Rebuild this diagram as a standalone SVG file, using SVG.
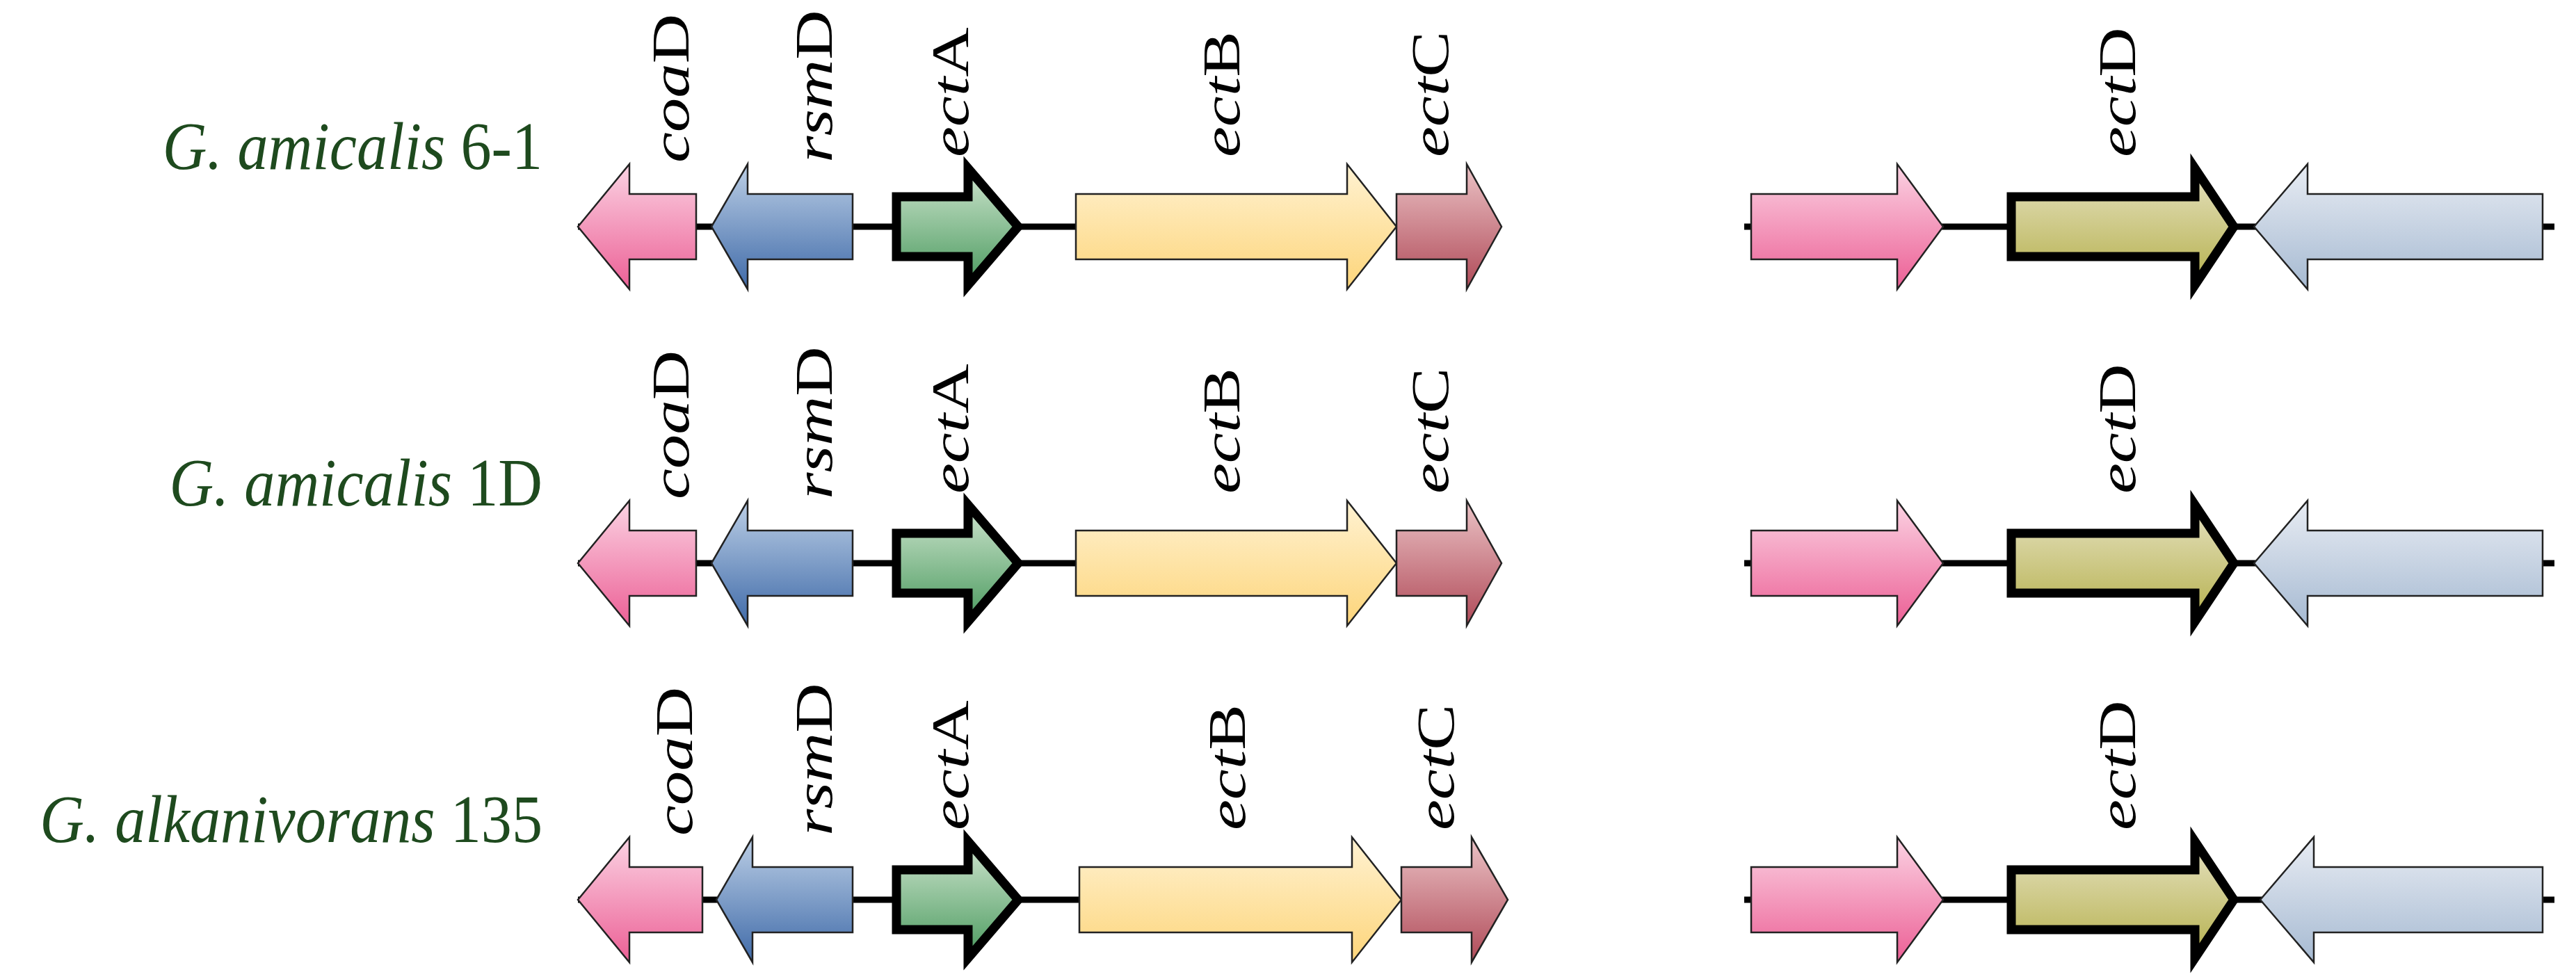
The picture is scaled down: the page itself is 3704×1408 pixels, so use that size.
<svg xmlns="http://www.w3.org/2000/svg" width="3704" height="1408" viewBox="0 0 3704 1408">
<defs>
<linearGradient id="gPink" x1="0" y1="0" x2="0" y2="1"><stop offset="0" stop-color="#fbd3e3"/><stop offset="1" stop-color="#ec5f95"/></linearGradient>
<linearGradient id="gBlue" x1="0" y1="0" x2="0" y2="1"><stop offset="0" stop-color="#bccfe6"/><stop offset="1" stop-color="#3f6aa8"/></linearGradient>
<linearGradient id="gGreen" x1="0" y1="0" x2="0" y2="1"><stop offset="0" stop-color="#cfe5cf"/><stop offset="1" stop-color="#4a9a5e"/></linearGradient>
<linearGradient id="gYellow" x1="0" y1="0" x2="0" y2="1"><stop offset="0" stop-color="#fff2d2"/><stop offset="1" stop-color="#fdd57a"/></linearGradient>
<linearGradient id="gRed" x1="0" y1="0" x2="0" y2="1"><stop offset="0" stop-color="#ebc3c6"/><stop offset="1" stop-color="#b04a58"/></linearGradient>
<linearGradient id="gOlive" x1="0" y1="0" x2="0" y2="1"><stop offset="0" stop-color="#e6e2c2"/><stop offset="1" stop-color="#b5b04c"/></linearGradient>
<linearGradient id="gLight" x1="0" y1="0" x2="0" y2="1"><stop offset="0" stop-color="#e8ecf3"/><stop offset="1" stop-color="#a6bad2"/></linearGradient>
</defs>
<style>
.gene{stroke:#222;stroke-width:2.5;stroke-linejoin:miter}
.thick{stroke:#000;stroke-width:13}
.bb{stroke:#000;stroke-width:9}
.lbl{font-family:"Liberation Serif",serif;font-size:76px;fill:#000}
.sp{font-family:"Liberation Serif",serif;font-size:98px;fill:#1e4a1e}
.it{font-style:italic}
</style>
<g id="connectors">
<line class="bb" x1="831" y1="326" x2="1547" y2="326"/>
<line class="bb" x1="2508" y1="326" x2="3673" y2="326"/>
<line class="bb" x1="831" y1="810" x2="1547" y2="810"/>
<line class="bb" x1="2508" y1="810" x2="3673" y2="810"/>
<line class="bb" x1="831" y1="1294" x2="1552" y2="1294"/>
<line class="bb" x1="2508" y1="1294" x2="3673" y2="1294"/>
</g>
<g id="row1" transform="translate(0,326)">
<text class="sp" transform="translate(780,-83) scale(0.9,1)" text-anchor="end"><tspan class="it">G. amicalis</tspan> 6-1</text>
<g id="r1-coaD"><polygon class="gene" fill="url(#gPink)" points="831,0 905,-90 905,-47 1001,-47 1001,47 905,47 905,90"/><text class="lbl" transform="translate(990,-92) rotate(-90) scale(1.3,1)"><tspan class="it">coa</tspan>D</text></g>
<g id="r1-rsmD"><polygon class="gene" fill="url(#gBlue)" points="1023,0 1075,-90 1075,-47 1226,-47 1226,47 1075,47 1075,90"/><text class="lbl" transform="translate(1196,-92) rotate(-90) scale(1.3,1)"><tspan class="it">rsm</tspan>D</text></g>
<g id="r1-ectA"><polygon class="gene thick" fill="url(#gGreen)" points="1289,-43 1392,-43 1392,-84 1464,0 1392,84 1392,43 1289,43"/><text class="lbl" transform="translate(1392,-100) rotate(-90) scale(1.3,1)"><tspan class="it">ect</tspan>A</text></g>
<g id="r1-ectB"><polygon class="gene" fill="url(#gYellow)" points="1547,-47 1937,-47 1937,-90 2008,0 1937,90 1937,47 1547,47"/><text class="lbl" transform="translate(1782,-100) rotate(-90) scale(1.3,1)"><tspan class="it">ect</tspan>B</text></g>
<g id="r1-ectC"><polygon class="gene" fill="url(#gRed)" points="2008,-47 2109,-47 2109,-90 2159,0 2109,90 2109,47 2008,47"/><text class="lbl" transform="translate(2082,-100) rotate(-90) scale(1.3,1)"><tspan class="it">ect</tspan>C</text></g>
<g id="r1-pink"><polygon class="gene" fill="url(#gPink)" points="2518,-47 2728,-47 2728,-90 2794,0 2728,90 2728,47 2518,47"/></g>
<g id="r1-ectD"><polygon class="gene thick" fill="url(#gOlive)" points="2892,-43 3156,-43 3156,-84 3212,0 3156,84 3156,43 2892,43"/><text class="lbl" transform="translate(3070,-100) rotate(-90) scale(1.3,1)"><tspan class="it">ect</tspan>D</text></g>
<g id="r1-light"><polygon class="gene" fill="url(#gLight)" points="3241,0 3318,-90 3318,-47 3656,-47 3656,47 3318,47 3318,90"/></g>
</g>
<g id="row2" transform="translate(0,810)">
<text class="sp" transform="translate(780,-83) scale(0.9,1)" text-anchor="end"><tspan class="it">G. amicalis</tspan> 1D</text>
<g id="r2-coaD"><polygon class="gene" fill="url(#gPink)" points="831,0 905,-90 905,-47 1001,-47 1001,47 905,47 905,90"/><text class="lbl" transform="translate(990,-92) rotate(-90) scale(1.3,1)"><tspan class="it">coa</tspan>D</text></g>
<g id="r2-rsmD"><polygon class="gene" fill="url(#gBlue)" points="1023,0 1075,-90 1075,-47 1226,-47 1226,47 1075,47 1075,90"/><text class="lbl" transform="translate(1196,-92) rotate(-90) scale(1.3,1)"><tspan class="it">rsm</tspan>D</text></g>
<g id="r2-ectA"><polygon class="gene thick" fill="url(#gGreen)" points="1289,-43 1392,-43 1392,-84 1464,0 1392,84 1392,43 1289,43"/><text class="lbl" transform="translate(1392,-100) rotate(-90) scale(1.3,1)"><tspan class="it">ect</tspan>A</text></g>
<g id="r2-ectB"><polygon class="gene" fill="url(#gYellow)" points="1547,-47 1937,-47 1937,-90 2008,0 1937,90 1937,47 1547,47"/><text class="lbl" transform="translate(1782,-100) rotate(-90) scale(1.3,1)"><tspan class="it">ect</tspan>B</text></g>
<g id="r2-ectC"><polygon class="gene" fill="url(#gRed)" points="2008,-47 2109,-47 2109,-90 2159,0 2109,90 2109,47 2008,47"/><text class="lbl" transform="translate(2082,-100) rotate(-90) scale(1.3,1)"><tspan class="it">ect</tspan>C</text></g>
<g id="r2-pink"><polygon class="gene" fill="url(#gPink)" points="2518,-47 2728,-47 2728,-90 2794,0 2728,90 2728,47 2518,47"/></g>
<g id="r2-ectD"><polygon class="gene thick" fill="url(#gOlive)" points="2892,-43 3156,-43 3156,-84 3212,0 3156,84 3156,43 2892,43"/><text class="lbl" transform="translate(3070,-100) rotate(-90) scale(1.3,1)"><tspan class="it">ect</tspan>D</text></g>
<g id="r2-light"><polygon class="gene" fill="url(#gLight)" points="3241,0 3318,-90 3318,-47 3656,-47 3656,47 3318,47 3318,90"/></g>
</g>
<g id="row3" transform="translate(0,1294)">
<text class="sp" transform="translate(780,-83) scale(0.9,1)" text-anchor="end"><tspan class="it">G. alkanivorans</tspan> 135</text>
<g id="r3-coaD"><polygon class="gene" fill="url(#gPink)" points="831,0 905,-90 905,-47 1010,-47 1010,47 905,47 905,90"/><text class="lbl" transform="translate(995,-92) rotate(-90) scale(1.3,1)"><tspan class="it">coa</tspan>D</text></g>
<g id="r3-rsmD"><polygon class="gene" fill="url(#gBlue)" points="1030,0 1082,-90 1082,-47 1226,-47 1226,47 1082,47 1082,90"/><text class="lbl" transform="translate(1196,-92) rotate(-90) scale(1.3,1)"><tspan class="it">rsm</tspan>D</text></g>
<g id="r3-ectA"><polygon class="gene thick" fill="url(#gGreen)" points="1289,-43 1392,-43 1392,-84 1464,0 1392,84 1392,43 1289,43"/><text class="lbl" transform="translate(1392,-100) rotate(-90) scale(1.3,1)"><tspan class="it">ect</tspan>A</text></g>
<g id="r3-ectB"><polygon class="gene" fill="url(#gYellow)" points="1552,-47 1944,-47 1944,-90 2015,0 1944,90 1944,47 1552,47"/><text class="lbl" transform="translate(1790,-100) rotate(-90) scale(1.3,1)"><tspan class="it">ect</tspan>B</text></g>
<g id="r3-ectC"><polygon class="gene" fill="url(#gRed)" points="2015,-47 2116,-47 2116,-90 2168,0 2116,90 2116,47 2015,47"/><text class="lbl" transform="translate(2090,-100) rotate(-90) scale(1.3,1)"><tspan class="it">ect</tspan>C</text></g>
<g id="r3-pink"><polygon class="gene" fill="url(#gPink)" points="2518,-47 2728,-47 2728,-90 2794,0 2728,90 2728,47 2518,47"/></g>
<g id="r3-ectD"><polygon class="gene thick" fill="url(#gOlive)" points="2892,-43 3156,-43 3156,-84 3212,0 3156,84 3156,43 2892,43"/><text class="lbl" transform="translate(3070,-100) rotate(-90) scale(1.3,1)"><tspan class="it">ect</tspan>D</text></g>
<g id="r3-light"><polygon class="gene" fill="url(#gLight)" points="3250,0 3327,-90 3327,-47 3656,-47 3656,47 3327,47 3327,90"/></g>
</g>
</svg>
